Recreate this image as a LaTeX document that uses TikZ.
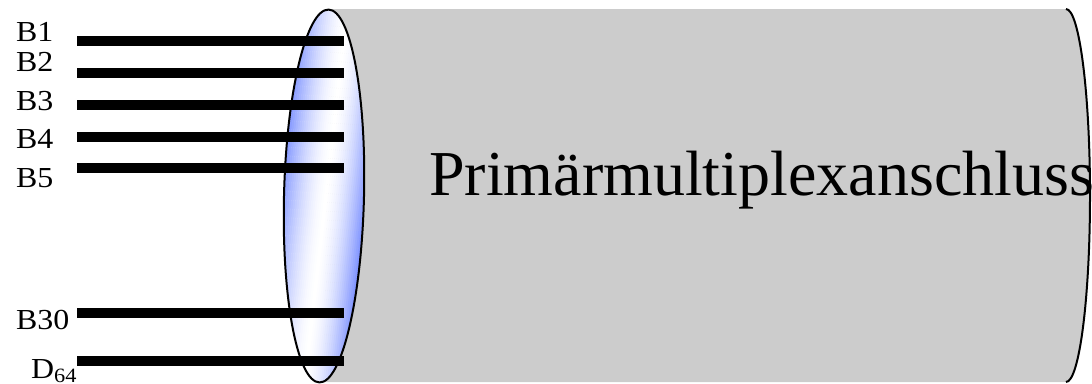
\documentclass[tikz,border=0pt]{standalone}
\usepackage{fontspec}
\usepackage{graphicx}
\setmainfont{Liberation Serif}
\newcommand{\widelab}[1]{\scalebox{1.1}[1]{#1}}
\begin{document}
\begin{tikzpicture}[x=1pt,y=-1pt]
\definecolor{tubegray}{RGB}{204,204,204}
\definecolor{capblue}{RGB}{128,148,255}
\tikzset{
  wire/.style={line width=10pt, line cap=butt},
  lbl/.style={font=\fontsize{29}{29}\selectfont, inner sep=0pt, anchor=base west},
  outline/.style={line width=2pt, black}
}
\useasboundingbox (0,0) rectangle (1092,383);
\clip (0,0) rectangle (1092,383);
% tube body
\fill[tubegray] (330,9) -- (1066,9) arc[start angle=-90, end angle=90, x radius=24, y radius=186.5] -- (323,382) -- cycle;
\draw[outline] (1066,9) arc[start angle=-90, end angle=90, x radius=24, y radius=186.5];
% end cap with tilted gradient
\begin{scope}
  \clip[rotate around={-1.4:(324,196)}] (324,196) ellipse [x radius=40, y radius=186.5];
  \begin{scope}[rotate around={-6.5:(324,196)}]
    \foreach \i in {0,...,46} {
      \pgfmathsetmacro\xa{276+2*\i}
      \pgfmathsetmacro\dd{\xa+1-326}
      \pgfmathsetmacro\pct{min(100,(abs(\dd)/40)^1.6*100*(\dd<0 ? 0.8 : 1))}
      \fill[capblue!\pct!white] (\xa,-40) rectangle (\xa+2.4,440);
    }
  \end{scope}
\end{scope}
\draw[outline, rotate around={-1.4:(324,196)}] (324,196) ellipse [x radius=40, y radius=186.5];
% wires
\foreach \n/\y in {1/41, 2/73, 3/104.5, 4/137, 5/168, 30/312.5, 64/360.7} {
  \coordinate (w\n l) at (77,\y);
  \coordinate (w\n r) at (344,\y);
  \draw[wire] (w\n l) -- (w\n r);
}
% labels
\node[lbl] (l1) at (16,41) {\widelab{B1}};
\node[lbl] (l2) at (16,71) {\widelab{B2}};
\node[lbl] (l3) at (16,110) {\widelab{B3}};
\node[lbl] (l4) at (16,148) {\widelab{B4}};
\node[lbl] (l5) at (16,187) {\widelab{B5}};
\node[lbl] (l30) at (16,329) {\widelab{B30}};
\node[lbl] (l64) at (31,378) {\widelab{D$_{\mathrm{64}}$}};
% title
\node[inner sep=0pt, anchor=base west, font=\fontsize{64}{64}\selectfont] (title) at (429,195) {Primärmultiplexanschluss};
\end{tikzpicture}
\end{document}
